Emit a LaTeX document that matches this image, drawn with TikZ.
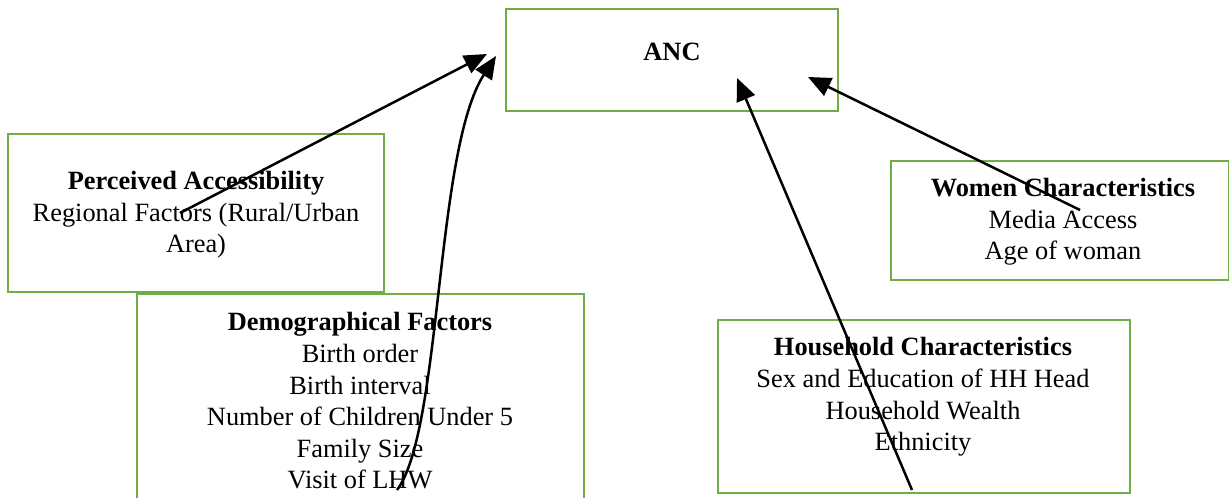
\documentclass[tikz,border=0pt]{standalone}
\usepackage{fontspec}
\setmainfont{Liberation Serif}
\usetikzlibrary{arrows.meta}
\definecolor{boxgreen}{HTML}{70AD47}
\tikzset{
  box/.style={draw=boxgreen, line width=1.1pt, rectangle, inner sep=0pt},
  txt/.style={align=center, inner sep=0pt, font=\fontsize{11.6}{13.9}\selectfont},
  conn/.style={line width=1.1pt, -{Triangle[length=10pt,width=8.5pt]}}
}
\begin{document}
\begin{tikzpicture}[x=0.44pt,y=-0.44pt]
\useasboundingbox (0,0) rectangle (1229,498);
\clip (0,0) rectangle (1229,498);
% boxes
\node[box, minimum width=332*0.44pt, minimum height=102*0.44pt] (anc) at (672,60) {};
\node[box, minimum width=376*0.44pt, minimum height=158*0.44pt] (pa) at (196,213) {};
\node[box, minimum width=447*0.44pt, minimum height=240*0.44pt] (df) at (360.5,414) {};
\node[box, minimum width=338*0.44pt, minimum height=119*0.44pt] (wc) at (1060,220.5) {};
\node[box, minimum width=412*0.44pt, minimum height=173*0.44pt] (hc) at (924,406.5) {};
% texts
\node[txt] (anct) at (672,52) {\textbf{ANC}};
\node[txt] (pat) at (196,215) {\textbf{Perceived Accessibility}\\Regional Factors (Rural/Urban\\Area)};
\node[txt] (dft) at (360,401) {\textbf{Demographical Factors}\\Birth order\\Birth interval\\Number of Children Under 5\\Family Size\\Visit of LHW};
\node[txt] (wct) at (1063,222) {\textbf{Women Characteristics}\\Media Access\\Age of woman};
\node[txt] (hct) at (923,397) {\textbf{Household Characteristics}\\Sex and Education of HH Head\\Household Wealth\\Ethnicity};
% connector ends
\coordinate (s1) at (180,213);
\coordinate (e1) at (487,54);
\coordinate (s2) at (397,490);
\coordinate (e2) at (496,56);
\coordinate (s3) at (912,490);
\coordinate (e3) at (737,78);
\coordinate (s4) at (1080,210);
\coordinate (e4) at (808,77);
% connectors
\draw[conn] (s1) -- (e1);
\draw[conn] (s2) .. controls (442,430) and (435,150) .. (e2);
\draw[conn] (s3) -- (e3);
\draw[conn] (s4) -- (e4);
\end{tikzpicture}
\end{document}
